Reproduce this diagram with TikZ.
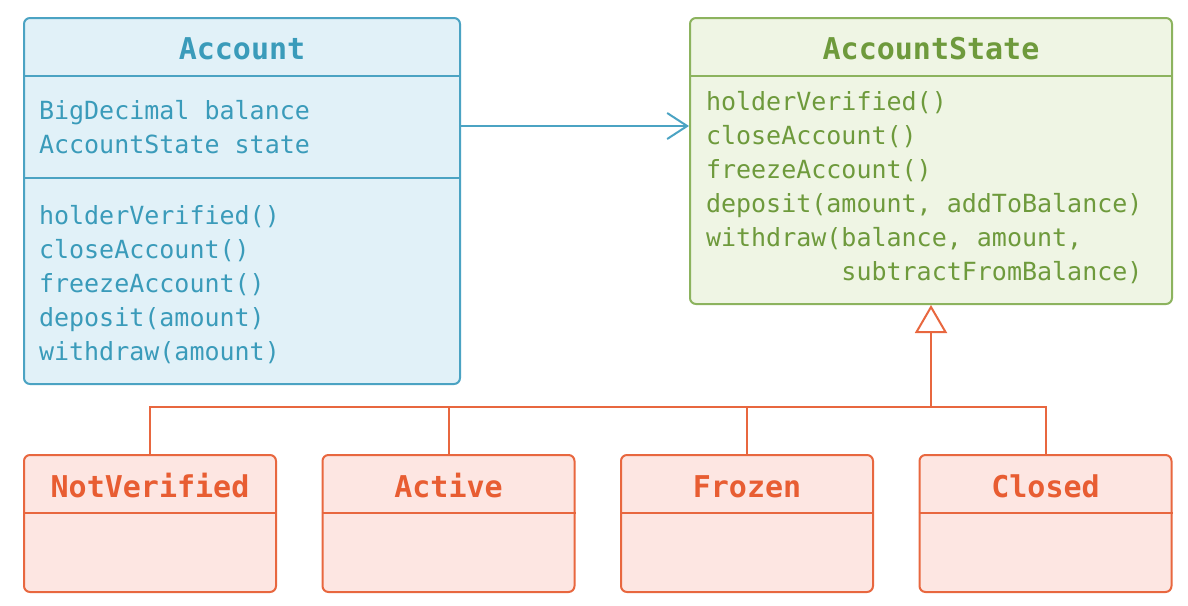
\documentclass[tikz,border=0pt]{standalone}
\usepackage{fontspec}
\setmonofont{DejaVu Sans Mono}
\usetikzlibrary{arrows.meta}
\definecolor{acctline}{HTML}{4BA3C3}
\definecolor{acctfill}{HTML}{E1F1F8}
\definecolor{accttext}{HTML}{3A9BBA}
\definecolor{stateline}{HTML}{8CB35E}
\definecolor{statefill}{HTML}{EFF5E4}
\definecolor{statetext}{HTML}{6E9A3C}
\definecolor{subline}{HTML}{E8673F}
\definecolor{subfill}{HTML}{FDE6E2}
\definecolor{subtext}{HTML}{E85D32}
\newcommand{\membfont}{\ttfamily\fontsize{25}{30}\selectfont}
\newcommand{\titlefont}{\ttfamily\bfseries\fontsize{30}{36}\selectfont}

\begin{document}
\begin{tikzpicture}[x=1pt, y=-1pt, line width=2pt,
  umlbox/.style={draw, rectangle, rounded corners=6pt, inner sep=0pt},
  title/.style={anchor=base, font=\titlefont},
  member/.style={anchor=base west, font=\membfont, inner sep=0pt}]
\useasboundingbox (0,0) rectangle (1188,605);
% box Account
\node[umlbox, draw=acctline, fill=acctfill, minimum width=436pt, minimum height=366pt] (account) at (242,201) {};
\draw[acctline] (account.west |- 0,76) -- (account.east |- 0,76);
\draw[acctline] (account.west |- 0,178) -- (account.east |- 0,178);
\node[title, text=accttext] (accttitle) at (242,59) {Account};
\foreach \txt [count=\i] in {BigDecimal balance, AccountState state}
  \node[member, text=accttext] (acctattr\i) at (38,85+34*\i) {\txt};
\foreach \txt [count=\i] in {holderVerified(), closeAccount(), freezeAccount(), deposit(amount), withdraw(amount)}
  \node[member, text=accttext] (acctmeth\i) at (38,190+34*\i) {\txt};
%% box AccountState
\node[umlbox, draw=stateline, fill=statefill, minimum width=482pt, minimum height=286pt] (state) at (931,161) {};
\draw[stateline] (state.west |- 0,76) -- (state.east |- 0,76);
\node[title, text=statetext] (statetitle) at (931,59) {AccountState};
\foreach \txt [count=\i] in {holderVerified(), closeAccount(), freezeAccount(), {deposit(amount, addToBalance)}, {withdraw(balance, amount,}, {\hphantom{withdraw(}subtractFromBalance)}}
  \node[member, text=statetext] (statemeth\i) at (705,76+34*\i) {\txt};
%% boxes of the states
\foreach \name/\lbl/\cx in {nv/NotVerified/150, ac/Active/448.5, fr/Frozen/747, cl/Closed/1045.5} {
  \node[umlbox, draw=subline, fill=subfill, minimum width=252pt, minimum height=137pt] (\name) at (\cx,523.5) {};
  \draw[subline] (\name.west |- 0,513) -- (\name.east |- 0,513);
  \node[title, text=subtext] (\name title) at (\cx,497) {\lbl};
}
% association
\coordinate (arrowy) at (0,126);
\draw[acctline, -{Straight Barb[length=20pt, width=26pt]}] (account.east |- arrowy) -- (state.west |- arrowy);
% inheritance
\coordinate (junc) at (931,407);
\draw[subline] (nv.north) |- (junc) -| (cl.north);
\draw[subline] (ac.north) -- (ac.north |- junc);
\draw[subline] (fr.north) -- (fr.north |- junc);
\draw[subline, -{Triangle[open, length=28pt, width=32pt, fill=white]}] (junc) -- (state.south);
\end{tikzpicture}
\end{document}
